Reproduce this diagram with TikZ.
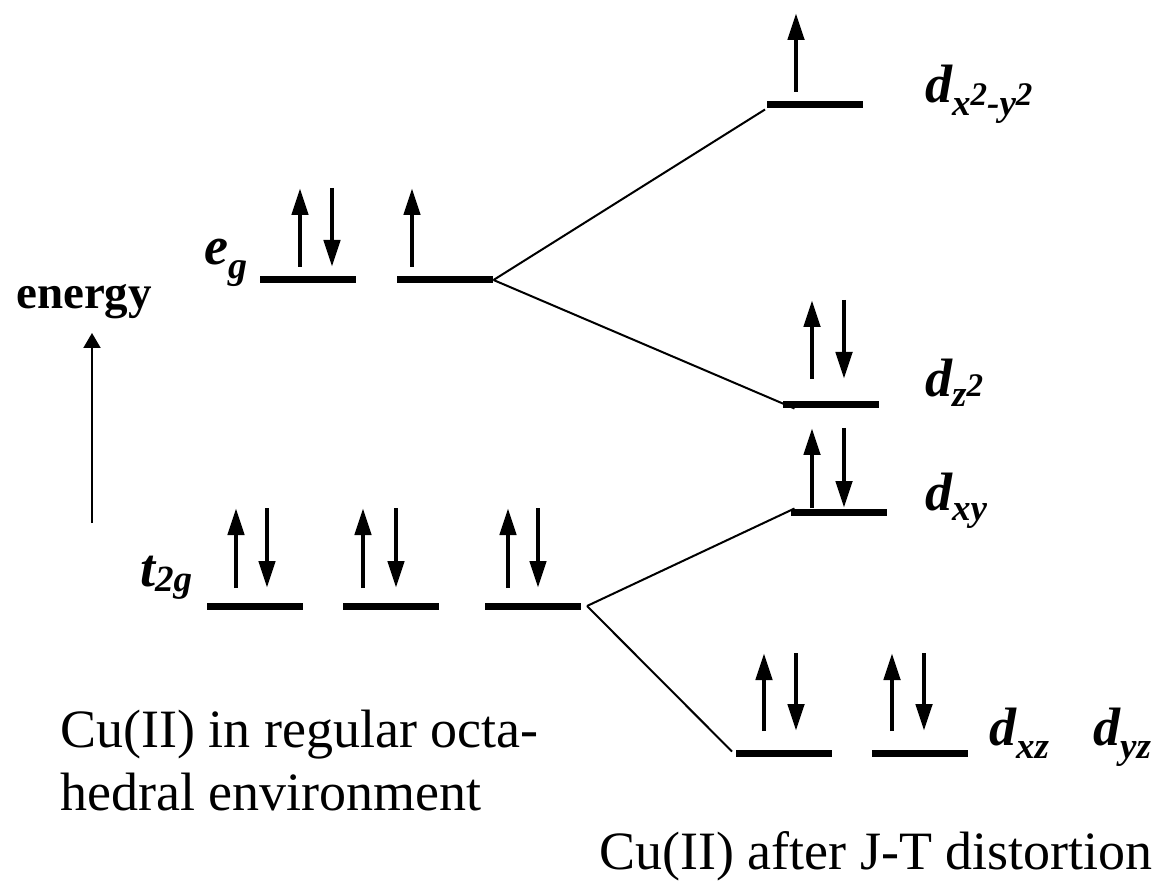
\documentclass[tikz,border=0pt]{standalone}
\usepackage{fontspec}
\setmainfont{Liberation Serif}
\usetikzlibrary{arrows.meta}
\begin{document}
\begin{tikzpicture}[x=1pt,y=-1pt,
  levelbar/.style={draw=none, fill=black, minimum width=96pt, minimum height=7pt, inner sep=0pt, outer sep=0pt},
  spinarrow/.style={line width=4.7pt, -{Triangle[width=16pt,length=27pt]}},
  connline/.style={line width=2pt},
  labtext/.style={anchor=base west, inner sep=0pt, font=\fontsize{54}{54}\selectfont\bfseries\itshape},
  captext/.style={anchor=base west, inner sep=0pt, align=left, font=\fontsize{54}{63}\selectfont},
]
\useasboundingbox (0,0) rectangle (1165,882);
\newcommand{\sbx}[2]{\raisebox{#1}{\fontsize{37}{37}\selectfont #2}}
\newcommand{\spx}[2]{\raisebox{#1}{\fontsize{33}{33}\selectfont #2}}

% levels
\node[levelbar] (eg1) at (308,280) {};
\node[levelbar] (eg2) at (444.5,280) {};
\node[levelbar] (t1) at (254.5,606) {};
\node[levelbar] (t2) at (390.5,606) {};
\node[levelbar] (t3) at (533,606) {};
\node[levelbar] (dx2) at (815,105) {};
\node[levelbar] (dz2) at (830.5,405) {};
\node[levelbar] (dxy) at (838.5,512) {};
\node[levelbar] (dxz) at (784,753) {};
\node[levelbar] (dyz) at (920,753) {};

% spins
\draw[spinarrow] (300,267) -- (300,188);
\draw[spinarrow] (332,188) -- (332,267);
\draw[spinarrow] (412,267) -- (412,188);
\draw[spinarrow] (236,588) -- (236,508);
\draw[spinarrow] (267,508) -- (267,588);
\draw[spinarrow] (363,588) -- (363,508);
\draw[spinarrow] (396,508) -- (396,588);
\draw[spinarrow] (508,588) -- (508,508);
\draw[spinarrow] (538,508) -- (538,588);
\draw[spinarrow] (796,92) -- (796,13);
\draw[spinarrow] (812,379) -- (812,300);
\draw[spinarrow] (844,300) -- (844,379);
\draw[spinarrow] (812,508) -- (812,428);
\draw[spinarrow] (844,428) -- (844,508);
\draw[spinarrow] (764,731) -- (764,653);
\draw[spinarrow] (796,653) -- (796,731);
\draw[spinarrow] (892,731) -- (892,653);
\draw[spinarrow] (924,653) -- (924,731);

% connectors
\coordinate (egR) at ([xshift=1pt]eg2.east);
\coordinate (tR) at ([xshift=6pt]t3.east);
\coordinate (dz2L) at ([xshift=12pt]dz2.south west);
\draw[connline] (egR) -- ([xshift=-2pt,yshift=-1pt]dx2.south west);
\draw[connline] (egR) -- (dz2L);
\draw[connline] (tR) -- ([xshift=4pt]dxy.north west);
\draw[connline] (tR) -- ([xshift=-4pt,yshift=-2pt]dxz.north west);

% energy axis
\coordinate (ebot) at (92,523);
\coordinate (etop) at (92,333);
\draw[line width=2pt, -{Triangle[width=17pt,length=15pt]}] (ebot) -- (etop);
\node[anchor=base west, inner sep=0pt, font=\fontsize{47}{47}\selectfont\bfseries] (energy) at (16,309) {energy};

% labels
\node[labtext] (eglab) at (204,265) {e\raisebox{-14pt}{\fontsize{38}{38}\selectfont g}};
\node[labtext] (t2glab) at (140,586) {t\sbx{-5pt}{2g}};
\node[labtext] (dx2lab) at (925,103) {d\sbx{-13pt}{x\spx{10pt}{2}-y\spx{10pt}{2}}};
\node[labtext] (dz2lab) at (925,397) {d\sbx{-10pt}{z\spx{10pt}{2}}};
\node[labtext] (dxylab) at (925,510) {d\sbx{-10pt}{xy}};
\node[labtext] (dxzlab) at (989,745) {d\sbx{-13pt}{xz}};
\node[labtext] (dyzlab) at (1093,745) {d\sbx{-13pt}{yz}};

% captions
\node[captext] (cap1) at (60,810) {Cu(II) in regular octa-\\hedral environment};
\node[captext, anchor=base east] (cap2) at (1153,869) {Cu(II) after J-T distortion};
\end{tikzpicture}
\end{document}
